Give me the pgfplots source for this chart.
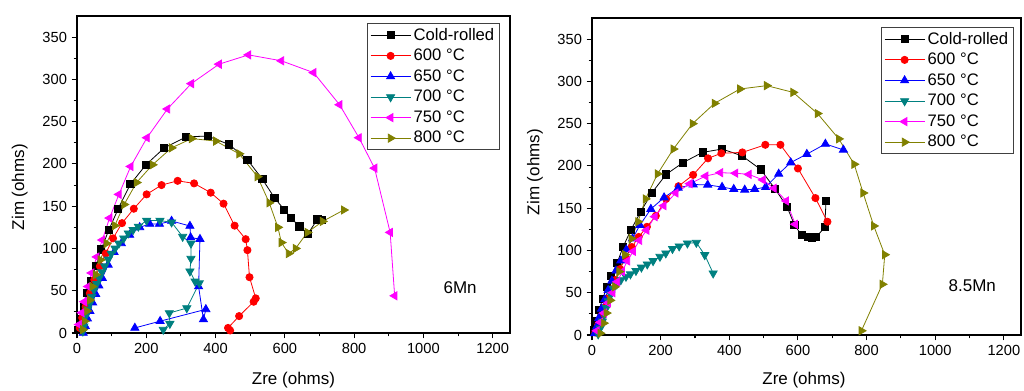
\documentclass[border=0pt]{standalone}
\usepackage{fontspec}
\setmainfont{Liberation Sans}
\usepackage{pgfplots}
\pgfplotsset{compat=1.18}
\definecolor{cteal}{RGB}{0,128,128}
\definecolor{colive}{RGB}{128,128,0}
\definecolor{cmag}{RGB}{255,0,255}

\pgfplotsset{
 mylegimg/.style={legend image code/.code={\draw[mark repeat=2,mark phase=2,##1] plot coordinates {(0pt,0pt) (15pt,0pt) (30pt,0pt)};}},
 eisstyle/.style={
  scale only axis,
  xmin=0,xmax=1250,ymin=0,ymax=375,
  xtick={0,200,...,1200}, ytick={0,50,...,350},
  minor x tick num=1, minor y tick num=1,
  tick align=outside, xtick pos=bottom, ytick pos=left,
  major tick length=4pt, minor tick length=2.5pt,
  tick style={black, line width=0.8pt},
  axis line style={line width=0.9pt},
  ticklabel style={font=\fontsize{11}{13}\selectfont},
  /pgf/number format/assume math mode=true,
  /pgf/number format/1000 sep={},
  label style={font=\fontsize{12.75}{15}\selectfont},
  xlabel={Zre (ohms)}, ylabel={Zim (ohms)},
  legend cell align=left,
  legend style={font=\fontsize{12.5}{14}\selectfont, draw=black!75, line width=0.6pt, inner xsep=2pt, inner ysep=1.5pt, row sep=1.2pt},
 },
 scr/.style={mylegimg, black, line width=0.6pt, mark=square*, mark size=2.7pt, mark options={solid}},
 s600/.style={mylegimg, red, line width=0.6pt, mark=*, mark size=2.7pt, mark options={solid}},
 s650/.style={mylegimg, blue, line width=0.6pt, mark=triangle*, mark size=3.5pt, mark options={solid}},
 s700/.style={mylegimg, cteal, line width=0.6pt, mark=triangle*, mark size=3.5pt, mark options={solid, rotate=180}},
 s750/.style={mylegimg, cmag, line width=0.6pt, mark=triangle*, mark size=3.5pt, mark options={solid, rotate=90}},
 s800/.style={mylegimg, colive, line width=0.6pt, mark=triangle*, mark size=3.5pt, mark options={solid, rotate=-90}},
}

\begin{document}
\begin{tikzpicture}
\path[use as bounding box] (0pt,0pt) rectangle (768pt,292.5pt);

% ---------------- Left: 6Mn ----------------
\begin{axis}[eisstyle,
  at={(57.75pt,42.75pt)}, anchor=south west,
  width=324.75pt, height=237.75pt,
  xlabel style={at={(axis description cs:0.5,-0.148)}, anchor=center},
  ylabel style={at={(axis description cs:-0.132,0.46)}, anchor=center},
  legend style={at={(1,1)}, anchor=north east, xshift=-7.5pt, yshift=-5.25pt},
]
\addplot[scr] coordinates {(4,4) (11,16) (19,31) (29,47) (41.5,62) (54,79) (70,99) (92,122) (119,147) (154,176) (199,199) (252,219) (315,232) (377,233) (439,223) (492,205) (535,182) (570,160) (598,146) (618,136) (642,126) (666,117) (694,134.5) (708,134)};
\addlegendentry{Cold-rolled}
\addplot[s600] coordinates {(8,6) (15,18) (25,31) (37,47) (50,63) (66,79) (83,94) (104,112) (130,130) (164,147) (201,164) (244,175) (290.5,180) (338,177) (386,166) (423,153) (455,127) (487,111) (492,98) (498,66) (516,41) (510,37) (468,20) (436,6) (442,3)};
\addlegendentry{600 °C}
\addplot[s650] coordinates {(18,0) (24,8) (30,17) (37,26) (45,36) (54,46) (63,56) (73,65) (90,80.6) (107,95.6) (128,106) (152,116) (181,125) (210,129) (238,129) (273,132.5) (326,126.6) (328,113) (355,111) (351,55) (365,16) (372,28) (240,14) (167,6)};
\addlegendentry{650 °C}
\addplot[s700] coordinates {(17,2) (20,8) (25,20) (31,28) (37,35) (43,43) (49,51) (57,58) (64,65) (72,72) (80,79) (90,87) (99,94) (110,100) (121,106) (135,112) (148,118) (162,122) (177,126) (201,133) (239.5,133) (273,131) (305,114) (329,106) (329,88) (326,73) (341,61) (353,59) (317,29.5) (266.5,23.6) (268,11) (249,4)};
\addlegendentry{700 °C}
\addplot[s750] coordinates {(6,10) (14,24) (21,37) (32,55) (42,71) (57,90) (73,110) (94,136) (121,164) (155,197) (202,231) (261,265) (330,295) (410,318) (495,329) (590,322) (683,308) (758,270) (814,231) (859,195) (904,119) (917,44)};
\addlegendentry{750 °C}
\addplot[s800] coordinates {(17,4) (22,14) (29,26) (37,39) (44,55) (54,69) (67.6,86.5) (85,106) (109,127) (136,152) (172,178) (218,199) (273,219) (331,230) (401,227) (468,212) (521,185) (555,154) (580,125) (590,107) (611,94) (631,100) (665,119) (709,132) (770,145.5)};
\addlegendentry{800 °C}
\node[font=\fontsize{12.75}{15}\selectfont] at (axis cs:1106,54) {6Mn};
\end{axis}

% ---------------- Right: 8.5Mn ----------------
\begin{axis}[eisstyle,
  at={(444pt,41.25pt)}, anchor=south west,
  width=321.75pt, height=237.75pt,
  xlabel style={at={(axis description cs:0.494,-0.142)}, anchor=center},
  ylabel style={at={(axis description cs:-0.133,0.514)}, anchor=center},
  legend style={at={(1,1)}, anchor=north east, xshift=-5.25pt, yshift=-6.75pt},
]
\addplot[scr] coordinates {(5,6) (12,16) (21,30) (31,43) (44,57) (56,70) (73,85) (91,104.6) (113,124) (142,146) (175,168.5) (216,190) (265.5,204) (322,216) (379,220) (437,212) (491,196) (534,172.5) (568,152) (590,130) (610.5,118.4) (629,115.6) (641.5,114.4) (653,115.6) (678,127.5) (682,159)};
\addlegendentry{Cold-rolled}
\addplot[s600] coordinates {(10,3) (18,12) (26,22) (35,32) (45,43) (56,54) (68,65) (82,78) (98,92) (116,104) (136,116) (160,128) (186,141) (216,161) (252,176) (294.6,189.4) (338,209) (377,215) (438,216) (505,225) (549,225) (600,197) (651,162) (686,134)};
\addlegendentry{600 °C}
\addplot[s650] coordinates {(8,2) (14,10) (20,20) (28,31) (37,42) (47,53) (58,64) (70,76) (84,88) (100,101) (118,114) (139.5,130) (171.5,149) (210,162.6) (251,174) (294.6,178) (337,177.6) (379,175) (413,172.5) (445,171.7) (474,172.5) (506,175) (544,190.6) (579,204) (626,214) (680,226) (732.5,219)};
\addlegendentry{650 °C}
\addplot[s700] coordinates {(18,1) (24,8) (30,16) (36,24) (42,32) (48,40) (55,48) (62,55) (72,60) (84,65) (99,69) (112,72) (128,76) (144,80) (161,83.7) (178,87.6) (198,92.7) (215,96.7) (234.5,102) (254,105) (278,108.5) (304,109.3) (328.5,94.7) (353,73)};
\addlegendentry{700 °C}
\addplot[s750] coordinates {(14,5) (24,15) (35,26) (47,38) (60,50) (74,63) (88,75) (103,87.6) (120,99) (138,112) (159,124) (183,140) (209,153) (244,168) (285,179) (331,188) (374,192) (418,191.4) (457,190) (498,183.5) (530,173.6) (566,158.6) (592,131)};
\addlegendentry{750 °C}
\addplot[s800] coordinates {(24,2) (34,14) (42,26) (53,41) (66,57) (79,75) (96,95) (115,114) (134,134) (156,161) (191,190.6) (237,220) (293,250) (357,274) (431,291) (509,295) (586,287) (657,262) (719,232) (764,202) (790,168) (821,129) (853,95) (846,60) (785,5)};
\addlegendentry{800 °C}
\node[font=\fontsize{12.75}{15}\selectfont] at (axis cs:1108,58) {8.5Mn};
\end{axis}
\end{tikzpicture}
\end{document}
